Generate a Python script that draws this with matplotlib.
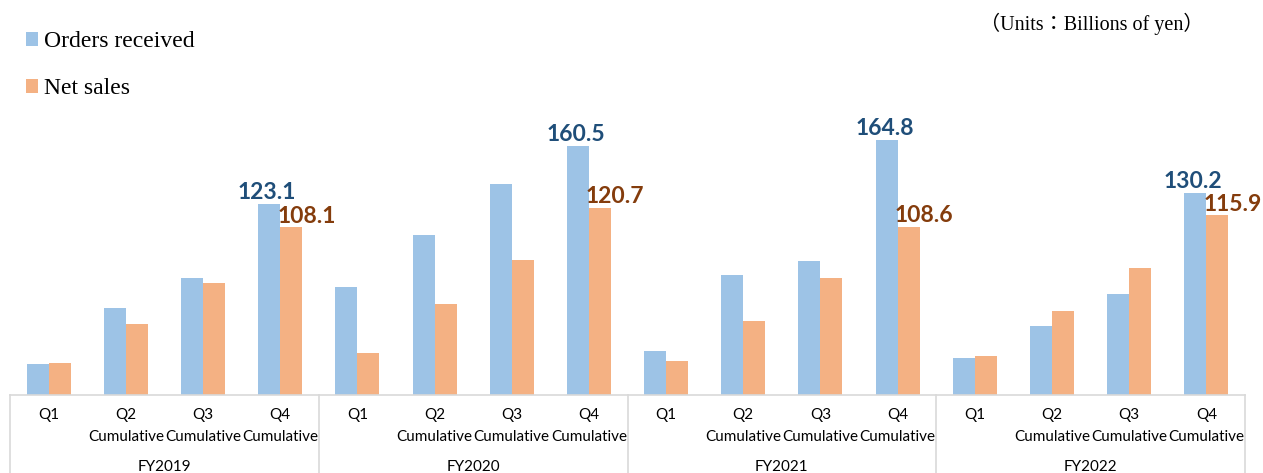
import matplotlib
matplotlib.use("Agg")
import matplotlib.pyplot as plt
import matplotlib.transforms as mtransforms
import numpy as np

years = ["FY2019", "FY2020", "FY2021", "FY2022"]
quarters = ["Q1", "Q2\nCumulative", "Q3\nCumulative", "Q4\nCumulative"]
orders = [19.8, 56.1, 75.3, 123.1,
          69.7, 103.4, 135.9, 160.5,
          28.4, 77.4, 86.5, 164.8,
          23.7, 44.7, 65.0, 130.2]
sales = [20.4, 45.8, 72.1, 108.1,
         26.9, 58.7, 86.9, 120.7,
         21.9, 47.9, 75.7, 108.6,
         25.2, 54.2, 81.9, 115.9]
labelled = [3, 7, 11, 15]

W, H = 1263, 473
fig = plt.figure(figsize=(W / 100, H / 100), dpi=100)
ax_left, ax_right, ax_bot, ax_top = 10, 1245, 395, 116
ax = fig.add_axes([ax_left / W, 1 - ax_bot / H, (ax_right - ax_left) / W, (ax_bot - ax_top) / H])

blue = "#9DC3E6"
orange = "#F4B183"
n = len(orders)
x = np.arange(n)
bw = 0.285
b1 = ax.bar(x - bw / 2, orders, bw, color=blue, label="Orders received", zorder=2)
b2 = ax.bar(x + bw / 2, sales, bw, color=orange, label="Net sales", zorder=2)

ax.set_xlim(-0.5, n - 0.5)
ax.set_ylim(0, 180)
for s in ["top", "left", "right"]:
    ax.spines[s].set_visible(False)
ax.spines["bottom"].set_color("#D9D9D9")
ax.spines["bottom"].set_linewidth(1.2)
ax.set_xticks([])
ax.set_yticks([])

axh = ax_bot - ax_top
trans = mtransforms.blended_transform_factory(ax.transData, ax.transAxes)
lab_font = "Lato"

# data labels
for i in labelled:
    ax.text(x[i] - bw / 2 - 0.03, orders[i] + 0.5, f"{orders[i]:.1f}", ha="center", va="bottom",
            color="#1F4E79", fontsize=16.5, fontweight="bold", family=lab_font, clip_on=False)
    ax.text(x[i] - 0.04, sales[i] + 0.5, f"{sales[i]:.1f}", ha="left", va="bottom",
            color="#843C0C", fontsize=16.5, fontweight="bold", family=lab_font, clip_on=False)

# multi-level category axis
tick_fs = 11
for i in range(n):
    q = quarters[i % 4].split("\n")
    ax.text(x[i], -20 / axh, q[0], transform=trans, ha="center", va="center",
            fontsize=tick_fs, family=lab_font, color="#000000")
    if len(q) > 1:
        ax.text(x[i], -42 / axh, q[1], transform=trans, ha="center", va="center",
                fontsize=tick_fs, family=lab_font, color="#000000")
for g, yr in enumerate(years):
    ax.text(g * 4 + 1.5, -72 / axh, yr, transform=trans, ha="center", va="center",
            fontsize=tick_fs, family=lab_font, color="#000000")
for g in range(len(years) + 1):
    ax.plot([g * 4 - 0.5, g * 4 - 0.5], [0, -(H - ax_bot + 5) / axh], transform=trans,
            color="#D9D9D9", lw=1.2, clip_on=False)

# legend
fig.legend(handles=[b1, b2], labels=["Orders received", "Net sales"],
           loc="upper left", bbox_to_anchor=(17 / W, 1 - 22 / H), frameon=False,
           handlelength=0.5, handleheight=0.5, handletextpad=0.25, labelspacing=1.1,
           prop={"family": "Liberation Serif", "size": 17}, borderaxespad=0)

fig.text(1203 / W, 1 - 24 / H, "（Units：Billions of yen）", ha="right", va="center",
         fontsize=14.5, family=["Liberation Serif", "Noto Sans CJK JP"])

fig.savefig("out.png", dpi=100)
